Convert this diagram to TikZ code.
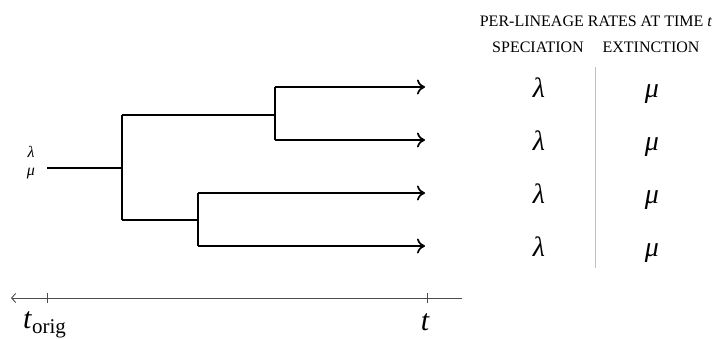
\documentclass[tikz,border=0pt]{standalone}
\usepackage{fontspec}
\setmainfont{Liberation Serif}
\usetikzlibrary{arrows.meta}
\begin{document}
\begin{tikzpicture}[x=1pt,y=-1pt,
  branch/.style={line width=1.7pt,black},
  tip/.style={branch,-{Computer Modern Rightarrow[length=8pt,width=15pt,line width=1.7pt]}},
  axisline/.style={line width=0.9pt,black!70},
  rate/.style={anchor=base,font=\fontsize{28}{30}\selectfont\itshape},
  head/.style={anchor=base,font=\fontsize{16}{18}\selectfont},
  small/.style={anchor=base,font=\fontsize{16}{18}\selectfont\itshape}]
\useasboundingbox (0,0) rectangle (712,338);
% tree coordinates
\coordinate (r0) at (47,168);
\coordinate (r1) at (122,168);
\coordinate (a) at (122,115);
\coordinate (b) at (122,220);
\coordinate (a1) at (275,115);
\coordinate (b1) at (198,220);
\coordinate (a1t) at (275,87);
\coordinate (a1b) at (275,140);
\coordinate (b1t) at (198,193);
\coordinate (b1b) at (198,246);
\coordinate (e1) at (425,87);
\coordinate (e2) at (425,140);
\coordinate (e3) at (425,193);
\coordinate (e4) at (425,246);
\draw[branch] (r0) -- (r1);
\draw[branch] (a) -- (b);
\draw[branch] (a) -- (a1);
\draw[branch] (b) -- (b1);
\draw[branch] (a1t) -- (a1b);
\draw[branch] (b1t) -- (b1b);
\draw[tip] (a1t) -- (e1);
\draw[tip] (a1b) -- (e2);
\draw[tip] (b1t) -- (e3);
\draw[tip] (b1b) -- (e4);
% root labels
\node[small] (l0) at (31,157) {λ};
\node[small] (m0) at (31,175) {μ};
% axis
\coordinate (ax0) at (11,298);
\coordinate (ax1) at (462,298);
\draw[axisline,{Straight Barb[length=4pt,width=9pt]}-] (ax0) -- (ax1);
\coordinate (tk0) at (47,298);
\coordinate (tk1) at (427,298);
\draw[axisline] ([yshift=-5pt]tk0) -- ([yshift=5pt]tk0);
\draw[axisline] ([yshift=-5pt]tk1) -- ([yshift=5pt]tk1);
\node[anchor=base west,inner sep=0pt,font=\fontsize{30}{32}\selectfont] (to) at (23,328) {\textit{t}\raisebox{-5pt}{\fontsize{21}{24}\selectfont orig}};
\node[anchor=base,font=\fontsize{30}{32}\selectfont\itshape] (tt) at (425,330) {t};
% header
\node[head] (h) at (596,26) {PER-LINEAGE RATES AT TIME \textit{t}};
\node[head] (hs) at (538,52) {SPECIATION};
\node[head] (he) at (651,52) {EXTINCTION};
% rates
\foreach \y/\n in {97/1,150/2,203/3,256/4}{
  \node[rate] (lam\n) at (539,\y) {λ};
  \node[rate] (mu\n) at (652,\y) {μ};
}
\coordinate (s0) at (595,67);
\coordinate (s1) at (595,268);
\draw[line width=0.8pt,black!25] (s0) -- (s1);
\end{tikzpicture}
\end{document}
